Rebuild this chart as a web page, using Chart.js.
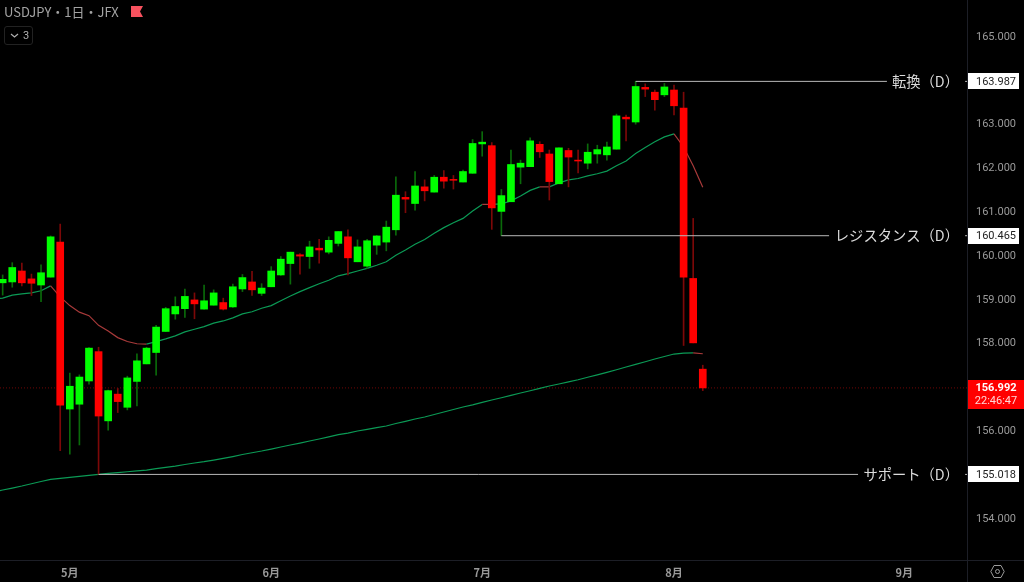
<!DOCTYPE html>
<html lang="ja">
<head>
<meta charset="utf-8">
<title>USDJPY</title>
<script src="https://cdn.jsdelivr.net/npm/chart.js@4"></script>
<style>
html, body { margin: 0; background: #000; overflow: hidden; }
#wrap { position: relative; width: 1024px; height: 582px; }
canvas { display: block; }
#title { position: absolute; left: 4px; top: 3px; color: #a3a3a3; font: 13px/18px "Noto Sans CJK JP", sans-serif; white-space: nowrap; }
#flag { position: absolute; left: 131px; top: 6px; }
#folds { position: absolute; left: 4px; top: 26px; width: 27px; height: 17px; border: 1px solid #222; border-radius: 3px; color: #b0b0b0; font: 11px/17px Roboto, sans-serif; }
#folds svg { position: absolute; left: 5px; top: 6px; }
#folds span { position: absolute; left: 18px; top: 0; }
#gear { position: absolute; left: 990px; top: 564px; }
</style>
</head>
<body>
<div id="wrap">
<canvas id="chart" width="1024" height="582"></canvas>
<div id="title">USDJPY・1日・JFX</div>
<svg id="flag" width="12" height="12"><path d="M0 0H12L9 5.5L12 11H0Z" fill="#f7525f"/></svg>
<div id="folds"><svg width="9" height="6"><path d="M1 1L4.5 4L8 1" fill="none" stroke="#b0b0b0" stroke-width="1.2"/></svg><span>3</span></div>
<svg id="gear" width="15" height="15"><path d="M4 1.5H11L14.2 7.5L11 13.5H4L0.8 7.5Z" fill="none" stroke="#9a9a9a"/><circle cx="7.5" cy="7.5" r="2" fill="none" stroke="#9a9a9a"/></svg>
</div>
<script>
const opens = [159.39,159.41,159.66,159.48,159.34,159.52,160.32,156.51,156.62,157.15,157.82,156.24,156.85,156.55,157.14,157.54,157.80,158.28,158.68,158.80,159.00,158.79,158.88,158.94,158.84,159.25,159.41,159.15,159.30,159.57,159.83,160.03,159.99,160.18,160.09,160.29,160.44,159.87,159.77,160.25,160.32,160.60,161.34,161.20,161.58,161.46,161.80,161.75,161.69,161.89,162.56,162.52,161.02,161.24,162.03,162.04,162.55,162.33,161.65,162.41,162.19,162.12,162.33,162.31,162.44,163.17,163.06,163.85,163.74,163.68,163.79,163.38,159.49,157.42];
const highs = [159.57,159.85,159.84,159.59,159.80,160.46,160.73,157.33,157.29,157.91,157.92,156.94,156.98,157.26,157.77,157.92,158.42,158.83,159.07,159.25,159.16,159.34,159.23,159.04,159.36,159.58,159.65,159.37,159.76,159.99,160.09,160.06,160.34,160.38,160.44,160.56,160.60,160.37,160.38,160.47,160.80,161.81,161.47,161.93,161.74,161.84,161.95,161.84,161.96,162.66,162.84,162.59,161.52,162.42,162.19,162.70,162.61,162.42,162.47,162.46,162.42,162.56,162.53,162.60,163.24,163.22,163.987,163.93,163.79,163.94,163.90,163.74,160.86,157.51];
const lows = [159.11,159.29,159.32,159.10,158.96,159.52,155.56,155.48,155.69,157.08,155.018,156.03,156.43,156.49,156.58,157.54,157.28,158.28,158.56,158.60,158.57,158.79,158.88,158.77,158.83,159.19,159.10,159.10,159.30,159.56,159.36,159.59,159.72,159.84,160.05,160.23,159.57,159.87,159.72,160.04,160.12,160.48,160.99,161.05,161.26,161.46,161.55,161.53,161.69,161.89,162.28,160.61,160.465,161.24,161.65,162.04,162.25,161.28,161.65,161.58,161.90,161.99,162.12,162.19,162.44,162.63,163.01,163.64,163.33,163.64,163.22,157.96,158.02,156.93];
const closes = [159.47,159.74,159.39,159.38,159.62,160.44,156.60,157.03,157.24,157.90,156.35,156.93,156.68,157.22,157.61,157.90,158.38,158.80,158.85,159.08,158.91,158.98,159.16,158.79,159.30,159.51,159.23,159.27,159.66,159.93,160.09,160.00,160.21,160.14,160.36,160.56,159.96,160.21,160.35,160.46,160.66,161.39,161.30,161.60,161.49,161.80,161.71,161.73,161.93,162.57,162.60,161.10,161.38,162.09,162.12,162.63,162.38,161.70,162.47,162.26,162.17,162.37,162.43,162.49,163.20,163.13,163.87,163.81,163.57,163.86,163.43,159.52,158.02,156.992];

// the averages start one day before the first visible candle
const maShort = [159.02,159.04,159.11,159.14,159.16,159.21,159.32,159.07,158.87,158.72,158.64,158.42,158.29,158.14,158.05,158.00,157.99,158.05,158.11,158.18,158.27,158.33,158.39,158.47,158.52,158.59,158.68,158.73,158.81,158.87,158.98,159.09,159.19,159.28,159.37,159.45,159.55,159.60,159.66,159.72,159.79,159.87,160.02,160.14,160.27,160.38,160.52,160.65,160.76,160.86,161.03,161.18,161.18,161.19,161.26,161.37,161.50,161.58,161.58,161.67,161.74,161.77,161.83,161.88,161.94,162.06,162.17,162.34,162.48,162.61,162.72,162.79,162.49,162.06,161.57];
const maLong = [154.612,154.662,154.707,154.753,154.805,154.856,154.906,154.929,154.952,154.974,154.997,155.020,155.041,155.061,155.079,155.100,155.118,155.148,155.180,155.209,155.244,155.278,155.308,155.346,155.385,155.426,155.472,155.513,155.552,155.597,155.643,155.689,155.734,155.780,155.826,155.876,155.926,155.962,156.008,156.045,156.086,156.122,156.179,156.230,156.282,156.328,156.385,156.442,156.499,156.556,156.606,156.663,156.716,156.768,156.821,156.875,156.928,156.983,157.035,157.081,157.131,157.179,157.236,157.291,157.348,157.407,157.469,157.530,157.590,157.651,157.708,157.765,157.785,157.79,157.772];

const monthIndex = [7, 28, 50, 70, 94];
const monthLabels = ["5月", "6月", "7月", "8月", "9月"];
const priceTicks = [154, 156, 158, 159, 160, 161, 162, 163, 165];

const levelNames = ["転換（D）", "レジスタンス（D）", "サポート（D）"];
const levelPrices = [163.987, 160.465, 155.018];
const levelStart = [66, 52, 10];
const levelEnd = [92.2, 86.17, 89.19];
const lastPrice = 156.992;
const countdown = "22:46:47";

const xMin = -0.278, xMax = 100.55;
const UP = "#00ff00", DOWN = "#ff0000", UP_WICK = "#0a6a0a", DOWN_WICK = "#7c0808";
const MA_UP = "#0b9a55", MA_DOWN = "#a83a3a";

function isUp(i) { return closes[i] >= opens[i]; }

function noPadding(axis) {
    axis.paddingTop = axis.paddingBottom = axis.paddingLeft = axis.paddingRight = 0;
}

function maLine(values) {
    return {
        type: "line",
        data: values.map((v, i) => ({ x: i - 1, y: v })),
        borderWidth: 1.2,
        pointRadius: 0,
        tension: 0,
        order: 5,
        borderColor: MA_UP,
        segment: { borderColor: ctx => ctx.p1.parsed.y <= ctx.p0.parsed.y ? MA_DOWN : MA_UP }
    };
}

function levelLine(x0, x1, price) {
    return {
        type: "line",
        data: [{ x: x0, y: price }, { x: x1, y: price }],
        borderColor: "#b8b8b8",
        borderWidth: 1,
        pointRadius: 0,
        order: 0
    };
}

const datasets = [
    {
        type: "line",
        data: [{ x: xMin, y: lastPrice }, { x: xMax, y: lastPrice }],
        borderColor: "#6e0606",
        borderWidth: 1,
        borderDash: [1, 2],
        pointRadius: 0,
        order: 6
    },
    maLine(maShort),
    maLine(maLong),
    {
        data: opens.map((o, i) => ({ x: i, y: [lows[i], highs[i]] })),
        backgroundColor: opens.map((o, i) => isUp(i) ? UP_WICK : DOWN_WICK),
        barThickness: 1,
        grouped: false,
        order: 3
    },
    {
        data: opens.map((o, i) => ({ x: i, y: [Math.min(o, closes[i]), Math.max(o, closes[i])] })),
        backgroundColor: opens.map((o, i) => isUp(i) ? UP : DOWN),
        barThickness: 7,
        grouped: false,
        order: 2
    }
];
levelPrices.forEach((p, i) => {
    datasets.push(levelLine(levelStart[i], levelEnd[i], p));
    datasets.push(levelLine(100.35, xMax, p));
});

// axis lines, level captions and price tags
const overlay = {
    id: "overlay",
    afterDraw(chart) {
        const c = chart.ctx, y = chart.scales.y;
        c.save();
        c.strokeStyle = "#1c1e26";
        c.lineWidth = 1;
        c.beginPath();
        c.moveTo(967.5, 0); c.lineTo(967.5, 582);
        c.moveTo(0, 560.5); c.lineTo(1024, 560.5);
        c.stroke();

        c.textBaseline = "middle";
        levelPrices.forEach((p, i) => {
            const py = y.getPixelForValue(p);
            c.fillStyle = "#dcdcdc";
            c.textAlign = "right";
            c.font = '14.3px "Noto Sans CJK JP"';
            c.fillText(levelNames[i], 959, py);
            c.fillStyle = "#fff";
            c.fillRect(968, Math.round(py) - 8, 51, 16);
            c.fillStyle = "#222";
            c.textAlign = "center";
            c.font = "11px Roboto";
            c.fillText(p.toFixed(3), 996, py + 0.5);
        });

        const ly = y.getPixelForValue(lastPrice);
        c.fillStyle = "#ff0000";
        c.fillRect(968, Math.round(ly) - 8, 56, 29);
        c.textAlign = "center";
        c.fillStyle = "#fff";
        c.font = "bold 11px Roboto";
        c.fillText(lastPrice.toFixed(3), 996, ly);
        c.fillStyle = "#ffd6d6";
        c.font = "11px Roboto";
        c.fillText(countdown, 996, ly + 13);
        c.restore();
    }
};

new Chart(document.getElementById("chart").getContext("2d"), {
    type: "bar",
    data: { datasets: datasets },
    plugins: [overlay],
    options: {
        responsive: false,
        animation: false,
        devicePixelRatio: 1,
        layout: { padding: 0 },
        plugins: { legend: { display: false }, tooltip: { enabled: false } },
        scales: {
            x: {
                type: "linear",
                offset: false,
                min: xMin,
                max: xMax,
                grid: { display: false, drawTicks: false },
                border: { display: false },
                afterBuildTicks: axis => { axis.ticks = monthIndex.map(v => ({ value: v })); },
                afterFit: axis => { axis.height = 22; noPadding(axis); },
                ticks: {
                    autoSkip: false,
                    maxRotation: 0,
                    padding: 6,
                    color: "#9a9a9a",
                    font: { family: '"Noto Sans CJK JP"', size: 11, weight: "bold" },
                    callback: v => monthLabels[monthIndex.indexOf(v)]
                }
            },
            y: {
                position: "right",
                min: 153.065,
                max: 165.844,
                grid: { display: false, drawTicks: false },
                border: { display: false },
                afterBuildTicks: axis => { axis.ticks = priceTicks.map(v => ({ value: v })); },
                afterFit: axis => { axis.width = 57; noPadding(axis); },
                ticks: {
                    autoSkip: false,
                    padding: 9,
                    color: "#9a9a9a",
                    font: { family: "Roboto", size: 11 },
                    callback: v => v.toFixed(3)
                }
            }
        }
    }
});
</script>
</body>
</html>
